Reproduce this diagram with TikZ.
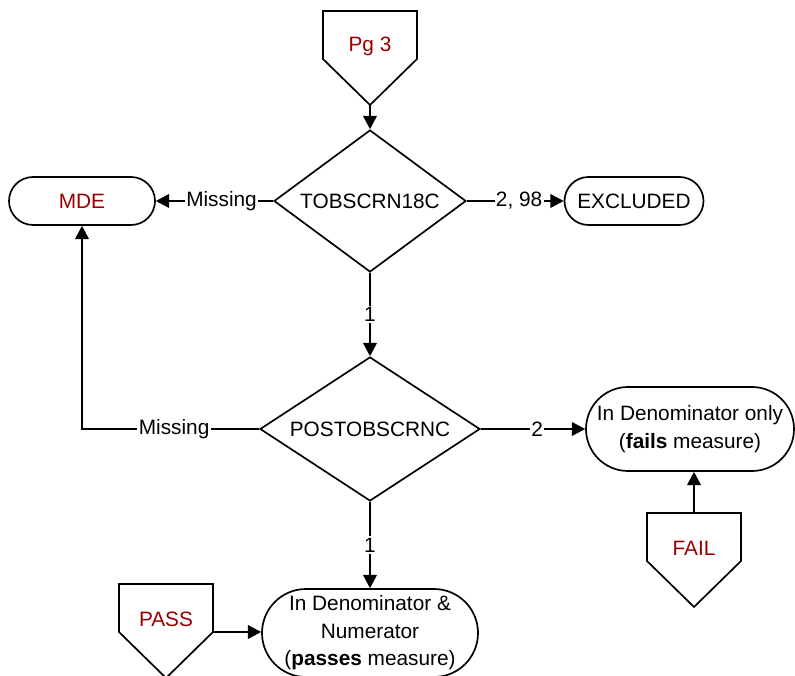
\documentclass[tikz,border=0pt]{standalone}
\usepackage{fontspec}
\setmainfont{Liberation Sans}
\usepackage{tikz}
\usetikzlibrary{arrows.meta,shapes.geometric,calc}
\definecolor{ink}{HTML}{000000}
\definecolor{pgred}{HTML}{990000}
\newcommand{\fsz}{\fontsize{14.8}{19.5}\selectfont}
\tikzset{
  base/.style={draw=ink, line width=1.2pt, line join=miter},
  arr/.style={base, -{Triangle[length=3.3mm, width=3.4mm]}},
  dec/.style={base, diamond, inner sep=0pt, aspect=1.35, font=\fsz},
  term/.style={base, rectangle, align=center, inner sep=1pt, font=\fsz},
  lab/.style={fill=white, inner sep=1pt, font=\fsz},
  labr/.style={text=pgred, font=\fsz},
  offpage/.pic={
    \draw[base] (-47,0) -- (47,0) -- (47,48) -- (0,94) -- (-47,48) -- cycle;
    \node[labr] (-txt) at (0,35) {#1};
    \coordinate (-top) at (0,0);
    \coordinate (-tip) at (0,94);
    \coordinate (-east) at (47,48);
  },
}

\begin{document}
\begin{tikzpicture}[x=0.25mm, y=-0.25mm]
\useasboundingbox (0,0) rectangle (795,676);
% decisions
\node[dec, minimum width=48mm, minimum height=35.5mm] (tob) at (370,201) {TOBSCRN18C};
\node[dec, minimum width=55mm, minimum height=36mm] (post) at (370,429) {POSTOBSCRNC};
% terminals
\node[term, rounded corners=6mm, minimum width=36.5mm, minimum height=12mm, text=pgred] (mde) at (82,201) {MDE};
\node[term, rounded corners=6mm, minimum width=34.75mm, minimum height=12mm] (excl) at (634,201) {EXCLUDED};
\node[term, rounded corners=10.5mm, minimum width=52mm, minimum height=21mm] (fails) at (690,429) {In Denominator only\\(\textbf{fails} measure)};
\node[term, rounded corners=11mm, minimum width=54mm, minimum height=22mm] (passes) at (370,633) {In Denominator \&\\Numerator\\(\textbf{passes} measure)};
% off-page connectors
\pic (pg) at (370,11) {offpage=Pg 3};
\pic (fail) at (694,513) {offpage=FAIL};
\pic (pass) at (166,584) {offpage=PASS};
% connectors
\draw[arr] (pg-tip) -- (tob.north);
\draw[arr] (tob.west) -- node[lab, pos=0.44] {Missing} (mde.east);
\draw[arr] (tob.east) -- node[lab, pos=0.54] {2, 98} (excl.west);
\draw[arr] (tob.south) -- node[lab] {1} (post.north);
\draw[arr] (post.west) -| node[lab, pos=0.24] {Missing} (mde.south);
\draw[arr] (post.east) -- node[lab, pos=0.54] {2} (fails.west);
\draw[arr] (post.south) -- node[lab] {1} (passes.north);
\draw[arr] (fail-top) -- (fail-top |- fails.south);
\draw[arr] (pass-east) -- (pass-east -| passes.west);
\end{tikzpicture}
\end{document}
